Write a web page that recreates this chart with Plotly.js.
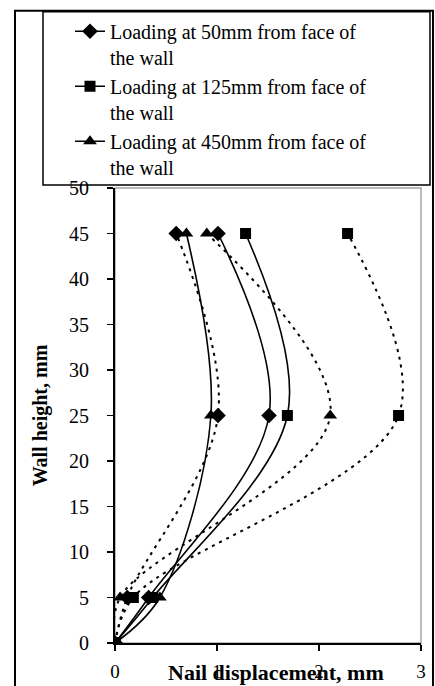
<!DOCTYPE html>
<html>
<head>
<meta charset="utf-8">
<script src="https://cdn.plot.ly/plotly-3.0.1.min.js"></script>
<style>html,body{margin:0;padding:0;background:#fff;}#chart{width:435px;height:686px;}</style>
</head>
<body>
<div id="chart"></div>
<script>
// Wall height positions (mm)
var wallHeight = [0, 5, 25, 45];

// Solid curves (legend entries)
var disp50 = [0, 0.33, 1.51, 1.01];
var disp125 = [0, 0.37, 1.69, 1.28];
var disp450 = [0, 0.44, 0.94, 0.70];

// Dotted curves (same markers, no legend)
var disp50b = [0, 0.12, 1.01, 0.60];
var disp125b = [0, 0.18, 2.78, 2.28];
var disp450b = [0, 0.05, 2.11, 0.90];

var legendNames = [
  'Loading at 50mm from face of<br>the wall',
  'Loading at 125mm from face of<br>the wall',
  'Loading at 450mm from face of<br>the wall'
];

var xTicks = [0, 1, 2, 3];
var yTicks = [0, 5, 10, 15, 20, 25, 30, 35, 40, 45, 50];

var font = '"Liberation Serif", serif';

function solid(x, name, sym, size) {
  return {
    x: x, y: wallHeight, name: name, type: 'scatter', mode: 'lines+markers',
    line: {color: '#000', width: 1.6, shape: 'spline', smoothing: 1},
    marker: {symbol: sym, size: size, color: '#000'},
    showlegend: true
  };
}
function dotted(x, sym, size) {
  return {
    x: x, y: wallHeight, type: 'scatter', mode: 'lines+markers',
    line: {color: '#000', width: 2, dash: '3px,5px', shape: 'spline', smoothing: 1},
    marker: {symbol: sym, size: size, color: '#000'},
    showlegend: false, hoverinfo: 'x+y'
  };
}

var data = [
  solid(disp50, legendNames[0], 'diamond', 12),
  solid(disp125, legendNames[1], 'square', 11),
  solid(disp450, legendNames[2], 'triangle-up', 12),
  dotted(disp50b, 'diamond', 12),
  dotted(disp125b, 'square', 11),
  dotted(disp450b, 'triangle-up', 12)
];

var W = 306, H = 457, L = 115, T = 186;
function px(xp) { return (xp - L) / W; }
function py(yp) { return (T + H - yp) / H; }

var layout = {
  width: 435, height: 686,
  margin: {l: L, r: 435 - L - W, t: T, b: 686 - T - H, pad: 0},
  paper_bgcolor: '#fff', plot_bgcolor: 'rgba(0,0,0,0)',
  font: {family: font, color: '#000', size: 20},
  showlegend: true,
  legend: {
    x: px(70), y: py(9), xanchor: 'left', yanchor: 'top',
    bgcolor: 'rgba(0,0,0,0)', borderwidth: 0,
    font: {family: font, size: 20, color: '#000'},
    valign: 'top', tracegroupgap: 0
  },
  xaxis: {
    range: [0, 3], tickvals: xTicks, ticktext: xTicks.map(String),
    showgrid: false, zeroline: false,
    showline: true, linecolor: '#000', linewidth: 1.5,
    ticks: 'outside', ticklen: 6, tickwidth: 1.5, tickcolor: '#000',
    ticklabelstandoff: 5,
    tickfont: {family: font, size: 19, color: '#000'}
  },
  yaxis: {
    range: [0, 50], tickvals: yTicks, ticktext: yTicks.map(String),
    showgrid: false, zeroline: false,
    showline: true, linecolor: '#000', linewidth: 2,
    ticks: 'outside', ticklen: 6, tickwidth: 1.5, tickcolor: '#000',
    ticklabelstandoff: 14,
    tickfont: {family: font, size: 20, color: '#000'},
    title: {text: '<b>Wall height, mm</b>', font: {family: font, size: 20, color: '#000'}, standoff: 16},
    automargin: false
  },
  annotations: [{
    text: '<b>Nail displacement, mm</b>', xref: 'paper', yref: 'paper',
    x: px(276), y: py(673), xanchor: 'center', yanchor: 'middle', showarrow: false,
    font: {family: font, size: 22, color: '#000'}
  }],
  shapes: [
    {type: 'rect', xref: 'paper', yref: 'paper', x0: 0, x1: 1, y0: 0, y1: 1,
     line: {color: '#a6a6a6', width: 1.5}, layer: 'below'},
    {type: 'rect', xref: 'paper', yref: 'paper', x0: px(43), x1: px(430), y0: py(183), y1: py(9),
     line: {color: '#000', width: 1.5}, layer: 'above'},
    {type: 'rect', xref: 'paper', yref: 'paper', x0: px(15), x1: px(433), y0: py(700), y1: py(8),
     line: {color: '#000', width: 2}, layer: 'above'}
  ]
};

Plotly.newPlot('chart', data, layout, {displayModeBar: false, staticPlot: true});
</script>
</body>
</html>
